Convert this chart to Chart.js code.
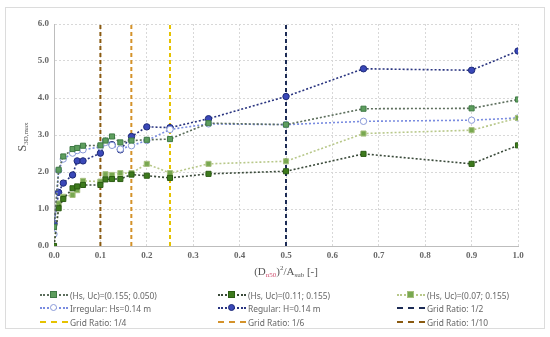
<!DOCTYPE html>
<html>
<head>
<meta charset="utf-8">
<script src="https://cdn.jsdelivr.net/npm/chart.js@4/dist/chart.umd.min.js"></script>
<style>
  body { margin: 0; background: #fff; }
  #wrap { position: relative; width: 550px; height: 337px; }
  #frame { position: absolute; left: 5px; top: 7px; width: 538px; height: 320px; border: 1px solid #dcdcdc; pointer-events: none; }
  .item { position: absolute; font: 8.4px "Noto Sans", sans-serif; color: #666; white-space: nowrap; display: flex; align-items: center; height: 10px; }
  .sym { position: relative; width: 28px; height: 10px; margin-right: 2px; }
  .sym .ln { position: absolute; left: 0; right: 0; top: 4px; border-top-width: 2px; }
  .sym .mk { position: absolute; left: 10px; top: 1px; width: 5px; height: 5px; border: 1px solid; }
</style>
</head>
<body>
<div id="wrap">
  <canvas id="chart" width="550" height="337"></canvas>
  <div id="frame"></div>
  <div id="legend"></div>
</div>
<script>
// x = (Dn50)^2 / Asub
const xRatio = [0, 0.01, 0.02, 0.04, 0.05, 0.0625, 0.1, 0.111, 0.125, 0.143, 0.167, 0.2, 0.25, 0.333, 0.5, 0.667, 0.9, 1.0];

// S3D,max per series
const sHs155Uc050 = [0.52, 2.06, 2.42, 2.62, 2.65, 2.71, 2.72, 2.85, 2.96, 2.80, 2.85, 2.87, 2.89, 3.32, 3.28, 3.71, 3.72, 3.96];
const sHs110Uc155 = [0.0, 1.02, 1.27, 1.56, 1.61, 1.65, 1.65, 1.80, 1.81, 1.81, 1.93, 1.90, 1.84, 1.95, 2.02, 2.49, 2.22, 2.72];
const sHs070Uc155 = [0.0, 1.15, 1.33, 1.38, 1.51, 1.76, 1.74, 1.94, 1.92, 1.97, 1.97, 2.22, 1.97, 2.22, 2.29, 3.04, 3.13, 3.46];
const sIrregular  = [0.32, 2.04, 2.35, 2.51, 2.58, 2.60, 2.68, 2.80, 2.72, 2.62, 2.71, 2.85, 3.15, 3.30, 3.28, 3.37, 3.40, 3.46];
const sRegular    = [0.61, 1.45, 1.70, 1.92, 2.30, 2.30, 2.51, 2.83, 2.74, 2.60, 2.96, 3.22, 3.20, 3.44, 4.04, 4.79, 4.75, 5.27];

const seriesLabels = ["(Hs, Uc)=(0.155; 0.050)", "(Hs, Uc)=(0.11; 0.155)", "(Hs, Uc)=(0.07; 0.155)", "Irregular: Hs=0.14 m", "Regular: H=0.14 m"];

// vertical grid ratio markers
const gridRatios = [0.5, 0.25, 1 / 6, 0.1];
const gridLabels = ["Grid Ratio: 1/2", "Grid Ratio: 1/4", "Grid Ratio: 1/6", "Grid Ratio: 1/10"];
const gridColors = ["#1c2b55", "#e6c200", "#d4922a", "#8a5a10"];

const yMin = 0, yMax = 6;

function pts(ys) {
  return ys.map((y, i) => ({ x: xRatio[i], y: y }));
}

function series(label, ys, style, shape) {
  return {
    label: label,
    data: pts(ys),
    borderColor: style.line,
    borderWidth: 1.6,
    borderDash: [2, 2],
    pointStyle: shape,
    pointRadius: shape === "rect" ? 3.6 : 3.2,
    pointBackgroundColor: style.fill,
    pointBorderColor: style.edge,
    pointBorderWidth: 1,
    fill: false,
    tension: 0,
    order: 1
  };
}

const styles = [
  { fill: "#5e9e5e", edge: "#3f7a45", line: "#5c6e5c" },
  { fill: "#3d7a1c", edge: "#2c5c14", line: "#3a4a3a" },
  { fill: "#78a850", edge: "#a8c080", line: "#b8c88a" },
  { fill: "#ffffff", edge: "#8a9ad8", line: "#7a8ce0" },
  { fill: "#3a48b8", edge: "#1e2a78", line: "#2a3580" }
];

const datasets = [
  series(seriesLabels[0], sHs155Uc050, styles[0], "rect"),
  series(seriesLabels[1], sHs110Uc155, styles[1], "rect"),
  series(seriesLabels[2], sHs070Uc155, styles[2], "rect"),
  series(seriesLabels[3], sIrregular, styles[3], "circle"),
  series(seriesLabels[4], sRegular, styles[4], "circle")
];

gridRatios.forEach((g, i) => {
  datasets.push({
    label: gridLabels[i],
    data: [{ x: g, y: yMin }, { x: g, y: yMax }],
    borderColor: gridColors[i],
    borderWidth: 2,
    borderDash: [4, 3],
    pointRadius: 0,
    fill: false,
    order: 10
  });
});

// axis titles with sub/superscripts
function drawParts(ctx, parts, x, y) {
  let total = 0;
  parts.forEach(p => {
    ctx.font = p.s + "px 'Liberation Serif', serif";
    p.w = ctx.measureText(p.t).width;
    total += p.w;
  });
  let cx = x - total / 2;
  parts.forEach(p => {
    ctx.font = p.s + "px 'Liberation Serif', serif";
    ctx.fillStyle = p.c || "#555";
    ctx.fillText(p.t, cx, y + (p.dy || 0));
    cx += p.w;
  });
}

const axisTitles = {
  id: "axisTitles",
  afterDraw(chart) {
    const ctx = chart.ctx;
    const a = chart.chartArea;
    ctx.save();
    ctx.textBaseline = "middle";
    ctx.textAlign = "left";
    drawParts(ctx, [
      { t: "(D", s: 11 },
      { t: "n50", s: 7, dy: 3, c: "#d05070" },
      { t: ")", s: 11 },
      { t: "2", s: 7, dy: -4 },
      { t: "/A", s: 11 },
      { t: "sub", s: 7, dy: 3 },
      { t: " [-]", s: 11 }
    ], (a.left + a.right) / 2, 272);
    ctx.translate(23, (a.top + a.bottom) / 2 + 2);
    ctx.rotate(-Math.PI / 2);
    drawParts(ctx, [
      { t: "S", s: 12 },
      { t: "3D,max", s: 7, dy: 3 }
    ], 0, 0);
    ctx.restore();
  }
};

const tickFont = { family: "'Liberation Serif', serif", size: 9, weight: "bold" };

new Chart(document.getElementById("chart"), {
  type: "line",
  data: { datasets: datasets },
  options: {
    responsive: false,
    animation: false,
    layout: { padding: { left: 6, right: 32, top: 24, bottom: 60 } },
    scales: {
      x: {
        type: "linear",
        min: 0,
        max: 1,
        ticks: { stepSize: 0.1, color: "#666", font: tickFont, padding: 4, callback: v => v.toFixed(1) },
        grid: { color: "#d8d8d8", tickLength: 0 },
        border: { color: "#bdbdbd", dash: [2, 2] },
        afterFit: s => { s.height = 31; }
      },
      y: {
        min: yMin,
        max: yMax,
        ticks: { stepSize: 1, color: "#666", font: tickFont, padding: 5, callback: v => v.toFixed(1) },
        grid: { color: "#d8d8d8", tickLength: 0 },
        border: { color: "#bdbdbd", dash: [2, 2] },
        afterFit: s => { s.width = 48; }
      }
    },
    plugins: {
      legend: { display: false },
      tooltip: { enabled: false }
    }
  },
  plugins: [axisTitles]
});

// legend in 3 columns
const legendCols = [40, 218, 397];
const legendRows = [290, 303, 317];
const legendEl = document.getElementById("legend");
datasets.forEach((ds, i) => {
  const item = document.createElement("div");
  item.className = "item";
  item.style.left = legendCols[i % 3] + "px";
  item.style.top = legendRows[Math.floor(i / 3)] + "px";
  const sym = document.createElement("span");
  sym.className = "sym";
  const ln = document.createElement("span");
  ln.className = "ln";
  ln.style.borderTopStyle = i < 5 ? "dotted" : "dashed";
  ln.style.borderTopColor = ds.borderColor;
  sym.appendChild(ln);
  if (i < 5) {
    const mk = document.createElement("span");
    mk.className = "mk";
    mk.style.background = ds.pointBackgroundColor;
    mk.style.borderColor = ds.pointBorderColor;
    if (ds.pointStyle === "circle") mk.style.borderRadius = "50%";
    sym.appendChild(mk);
  }
  item.appendChild(sym);
  const txt = document.createElement("span");
  txt.textContent = ds.label;
  item.appendChild(txt);
  legendEl.appendChild(item);
});
</script>
</body>
</html>
